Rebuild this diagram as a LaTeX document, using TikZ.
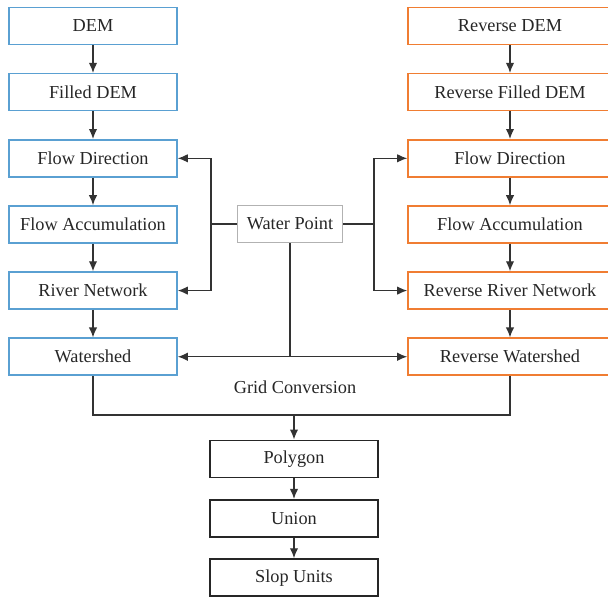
\documentclass[tikz,border=0pt]{standalone}
\usepackage{fontspec}
\setmainfont{Liberation Serif}
\usetikzlibrary{arrows.meta,positioning}

\definecolor{blueline}{RGB}{90,160,210}
\definecolor{orangeline}{RGB}{240,125,50}
\definecolor{grayline}{RGB}{178,178,178}

\begin{document}
\begin{tikzpicture}[
  >={Latex[length=2.5mm,width=2.1mm]},
  every node/.style={font=\fontsize{13}{15}\selectfont, text=black!85},
  box/.style={draw, line width=1.1pt, minimum height=9.25mm,
              align=center, inner sep=0pt},
  lbox/.style={box, draw=blueline, minimum width=42mm},
  rbox/.style={box, draw=orangeline, minimum width=51mm},
  kbox/.style={box, draw=black!85, line width=1.4pt, minimum width=42mm},
  line/.style={line width=0.9pt, draw=black!80},
  link/.style={line, ->}
]
  \useasboundingbox (0,0) rectangle (15.2,-14.975);

  % left column
  \node[lbox] (dem) at (2.325,-0.65) {DEM};
  \node[lbox, below=6.9mm of dem] (filled) {Filled DEM};
  \node[lbox, below=6.9mm of filled] (flowdir) {Flow Direction};
  \node[lbox, below=6.9mm of flowdir] (flowacc) {Flow Accumulation};
  \node[lbox, below=6.9mm of flowacc] (river) {River Network};
  \node[lbox, below=6.9mm of river] (shed) {Watershed};

  % right column
  \node[rbox] (rdem) at (12.75,-0.65) {Reverse DEM};
  \node[rbox, below=6.9mm of rdem] (rfilled) {Reverse Filled DEM};
  \node[rbox, below=6.9mm of rfilled] (rflowdir) {Flow Direction};
  \node[rbox, below=6.9mm of rflowdir] (rflowacc) {Flow Accumulation};
  \node[rbox, below=6.9mm of rflowacc] (rriver) {Reverse River Network};
  \node[rbox, below=6.9mm of rriver] (rshed) {Reverse Watershed};

  % middle
  \node[box, draw=grayline, minimum width=26.25mm] (wp) at (7.25,-5.6)
    {Water Point};
  \node (grid) at (7.375,-9.675) {Grid Conversion};

  % bottom column
  \node[kbox] (poly) at (7.35,-11.475) {Polygon};
  \node[kbox, below=5.1mm of poly] (union) {Union};
  \node[kbox, below=5.1mm of union] (slop) {Slop Units};

  \coordinate (wl) at (5.275,-5.6);
  \coordinate (wr) at (9.35,-5.6);
  \coordinate (wd) at (wp |- shed);
  \coordinate (merge) at (7.35,-10.375);

  \foreach \a/\b in {dem/filled, filled/flowdir, flowdir/flowacc,
                     flowacc/river, river/shed, rdem/rfilled,
                     rfilled/rflowdir, rflowdir/rflowacc,
                     rflowacc/rriver, rriver/rshed,
                     poly/union, union/slop}
    \draw[link] (\a) -- (\b);

  \draw[line] (wp) -- (wl);
  \draw[link] (wl) |- (flowdir);
  \draw[link] (wl) |- (river);
  \draw[line] (wp) -- (wr);
  \draw[link] (wr) |- (rflowdir);
  \draw[link] (wr) |- (rriver);
  \draw[line] (wp) -- (wd);
  \draw[link] (wd) -- (shed);
  \draw[link] (wd) -- (rshed);

  \draw[line] (shed.south) |- (merge) -| (rshed.south);
  \draw[link] (merge) -- (poly);
\end{tikzpicture}
\end{document}
